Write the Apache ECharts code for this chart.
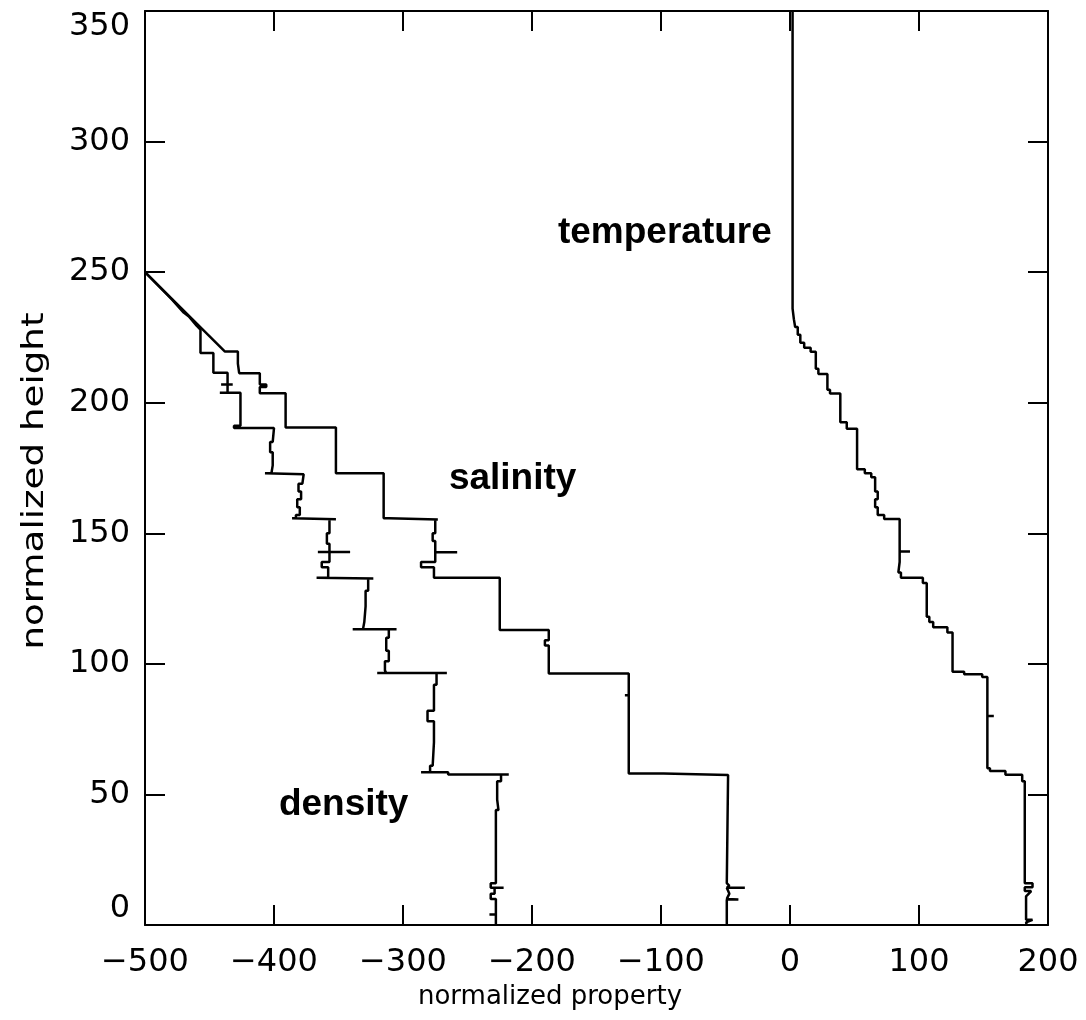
<!DOCTYPE html>
<html lang="en">
<head>
    <title>normalized profiles</title>
    <meta charset="utf-8">
    <style>
        html, body { margin: 0; padding: 0; background: #fff; }
        #chart { width: 1086px; height: 1020px; }
    </style>
    <script src="https://cdn.jsdelivr.net/npm/echarts@6/dist/echarts.min.js"></script>
</head>
<body>
    <div id="chart"></div>
    <script type="text/javascript">
        // axis ticks
        var xTicks = [-500, -400, -300, -200, -100, 0, 100, 200];
        var yTicks = [0, 50, 100, 150, 200, 250, 300, 350];

        // [normalized property, normalized height]
        var densityProfile = [
            [-500, 250], [-479, 239.5], [-470, 234.5], [-466, 233], [-460, 229.5], [-457, 228],
            [-457, 219], [-447, 219], [-447, 211.5], [-436, 211.5], [-436, 207], [-441, 207],
            [-432, 207], [-436, 207], [-436, 203.8], [-442, 203.8], [-426, 203.8], [-426, 191.2],
            [-431, 191.2], [-431, 190.3], [-400, 190.3], [-401, 190.3], [-401, 185], [-403, 185],
            [-403, 181], [-401, 181], [-401, 176], [-402, 176], [-402, 173], [-407, 173],
            [-377, 172.6], [-378, 172.6], [-378, 169], [-381, 169], [-381, 166], [-379, 166],
            [-379, 163], [-382, 163], [-382, 160], [-380, 160], [-380, 157], [-383, 157],
            [-383, 155.8], [-386, 155.8], [-352, 155.4], [-357, 155.4], [-357, 150], [-359, 150],
            [-359, 146], [-357, 146], [-357, 142.8], [-366, 142.8], [-341, 142.8], [-357, 142.8],
            [-357, 139], [-363, 139], [-363, 137], [-358, 137], [-358, 133], [-367, 133],
            [-323, 132.7], [-327, 132.7], [-327, 128], [-329, 128], [-329, 122], [-330, 122],
            [-330, 116], [-331, 116], [-331, 113.3], [-339, 113.3], [-305, 113.3], [-311, 113.3],
            [-311, 110], [-313, 110], [-313, 105], [-311, 105], [-311, 101], [-314, 101],
            [-314, 97.5], [-313, 97.5], [-313, 96.5], [-320, 96.5], [-266, 96.5], [-274, 96.5],
            [-274, 92], [-276, 92], [-276, 82], [-281, 82], [-281, 78], [-276, 78],
            [-276, 70], [-277, 70], [-277, 61], [-279, 61], [-279, 58.5], [-286, 58.5],
            [-265, 58.5], [-265, 57.6], [-218, 57.6], [-224, 57.6], [-224, 55], [-227, 55],
            [-227, 48], [-226, 48], [-226, 44], [-228, 44], [-228, 16], [-232, 16],
            [-232, 14.3], [-222, 14.3], [-229, 14.3], [-229, 12], [-232, 12], [-232, 10],
            [-228, 10], [-228, 4], [-233, 4], [-228, 4], [-228, 0]
        ];
        var salinityProfile = [
            [-500, 250], [-438, 219.6], [-428, 219.6], [-428, 215], [-427, 215], [-427, 211.3],
            [-411, 211.3], [-411, 207], [-406, 207], [-406, 206], [-411, 206], [-411, 203.6],
            [-391, 203.6], [-391, 190.5], [-352, 190.5], [-352, 173], [-315, 173], [-315, 155.8],
            [-311, 155.8], [-311, 155.3], [-273, 155.3], [-275, 155.3], [-275, 150], [-277, 150],
            [-277, 147], [-275, 147], [-275, 142.7], [-258, 142.7], [-275, 142.7], [-275, 139],
            [-286, 139], [-286, 137], [-276, 137], [-276, 133], [-225, 133], [-225, 113],
            [-187, 113], [-187, 109], [-190, 109], [-190, 107], [-187, 107], [-187, 96.3],
            [-125, 96.3], [-125, 88], [-128, 88], [-125, 88], [-125, 58], [-98, 58],
            [-98, 57.4], [-48, 57.4], [-49, 57.4], [-49, 16], [-47, 15], [-49, 14.3],
            [-35, 14.3], [-49, 14.3], [-47, 12], [-49, 10], [-40, 9.8], [-49, 9.8],
            [-49, 0]
        ];
        var temperatureProfile = [
            [2, 350], [2, 236], [3, 236], [3, 232], [4, 232], [4, 229], [6, 229], [6, 226],
            [8, 226], [8, 223], [11, 223], [11, 221], [16, 221], [16, 219.5], [20, 219.5],
            [20, 213], [22, 213], [22, 211], [29, 211], [29, 205], [31, 205], [31, 203.5],
            [39, 203.5], [39, 192.5], [44, 192.5], [44, 190], [52, 190], [52, 174.5],
            [58, 174.5], [58, 173], [63, 173], [63, 171.5], [66, 171.5], [66, 166],
            [68, 166], [68, 163], [66, 163], [66, 160], [68, 160], [68, 157], [73, 157],
            [73, 155.5], [85, 155.5], [85, 143], [93, 143], [85, 143], [85, 139], [84, 139],
            [84, 135], [86, 135], [86, 133], [103, 133], [103, 131], [106, 131], [106, 118],
            [108, 118], [108, 116], [111, 116], [111, 114], [122, 114], [122, 112], [126, 112],
            [126, 97], [135, 97], [135, 96], [149, 96], [149, 95], [153, 95], [153, 80],
            [158, 80], [153, 80], [153, 60], [155, 60], [155, 59], [167, 59], [167, 57.5],
            [180, 57.5], [180, 55], [182, 55], [182, 16], [188, 16], [188, 14.5], [182, 14.5],
            [182, 13], [187, 13], [183, 11], [183, 2], [188, 2], [183, 1], [183.5, 0]
        ];

        // curve labels: [text, x, y]
        var curveLabels = [
            ["temperature", -97, 265],
            ["salinity", -215, 171],
            ["density", -346, 46]
        ];

        var axisFont = "DejaVu Sans";
        function minusFmt(v) { return String(v).replace("-", "\u2212"); }

        var mychart = echarts.init(document.getElementById("chart"));
        function lineSeries(name, data) {
            return {
                name: name,
                type: "line",
                data: data,
                showSymbol: false,
                symbol: "none",
                animation: false,
                lineStyle: { color: "#000", width: 2.5 },
                xAxisIndex: 0,
                yAxisIndex: 0
            };
        }
        var tickStyle = { show: true, inside: true, length: 20, lineStyle: { color: "#000", width: 2 } };
        var frameLine = { show: true, onZero: false, lineStyle: { color: "#000", width: 2 } };
        var option = {
            backgroundColor: "#fff",
            animation: false,
            grid: { left: 145, right: 38, top: 11, bottom: 95 },
            xAxis: [
                {
                    type: "value", min: xTicks[0], max: xTicks[xTicks.length - 1], interval: 100,
                    position: "bottom",
                    name: "normalized property", nameLocation: "middle", nameGap: 56,
                    nameTextStyle: { fontFamily: axisFont, fontSize: 26, color: "#000", padding: [0, 93, 0, 0] },
                    axisLine: frameLine,
                    axisTick: tickStyle,
                    axisLabel: { fontFamily: axisFont, fontSize: 32, color: "#000", margin: 22, formatter: minusFmt },
                    splitLine: { show: false }
                },
                {
                    type: "value", min: xTicks[0], max: xTicks[xTicks.length - 1], interval: 100,
                    position: "top",
                    axisLine: frameLine,
                    axisTick: tickStyle,
                    axisLabel: { show: false },
                    splitLine: { show: false }
                }
            ],
            yAxis: [
                {
                    type: "value", min: yTicks[0], max: yTicks[yTicks.length - 1], interval: 50,
                    position: "left",
                    axisLine: frameLine,
                    axisTick: tickStyle,
                    axisLabel: {
                        fontFamily: axisFont, fontSize: 32, color: "#000", margin: 15,
                        verticalAlignMaxLabel: "top", verticalAlignMinLabel: "bottom"
                    },
                    splitLine: { show: false }
                },
                {
                    type: "value", min: yTicks[0], max: yTicks[yTicks.length - 1], interval: 50,
                    position: "right",
                    axisLine: frameLine,
                    axisTick: tickStyle,
                    axisLabel: { show: false },
                    splitLine: { show: false }
                }
            ],
            series: [
                lineSeries("density", densityProfile),
                lineSeries("salinity", salinityProfile),
                lineSeries("temperature", temperatureProfile)
            ]
        };
        mychart.setOption(option);

        // curve names at data positions, plus the stretched y axis title
        var labels = curveLabels.map(function (item) {
            var p = mychart.convertToPixel({ gridIndex: 0 }, [item[1], item[2]]);
            return {
                type: "text",
                x: p[0], y: p[1],
                style: {
                    text: item[0], fill: "#000",
                    font: "bold 37px 'Liberation Sans', Arial, sans-serif",
                    align: "center", verticalAlign: "middle"
                }
            };
        });
        var mid = mychart.convertToPixel({ yAxisIndex: 0 }, 170);
        labels.push({
            type: "text",
            x: 35, y: mid,
            rotation: Math.PI / 2,
            scaleX: 1.24,
            style: {
                text: "normalized height", fill: "#000",
                font: "30px 'DejaVu Sans'",
                align: "center", verticalAlign: "middle"
            }
        });
        mychart.setOption({ graphic: labels });
    </script>
</body>
</html>
